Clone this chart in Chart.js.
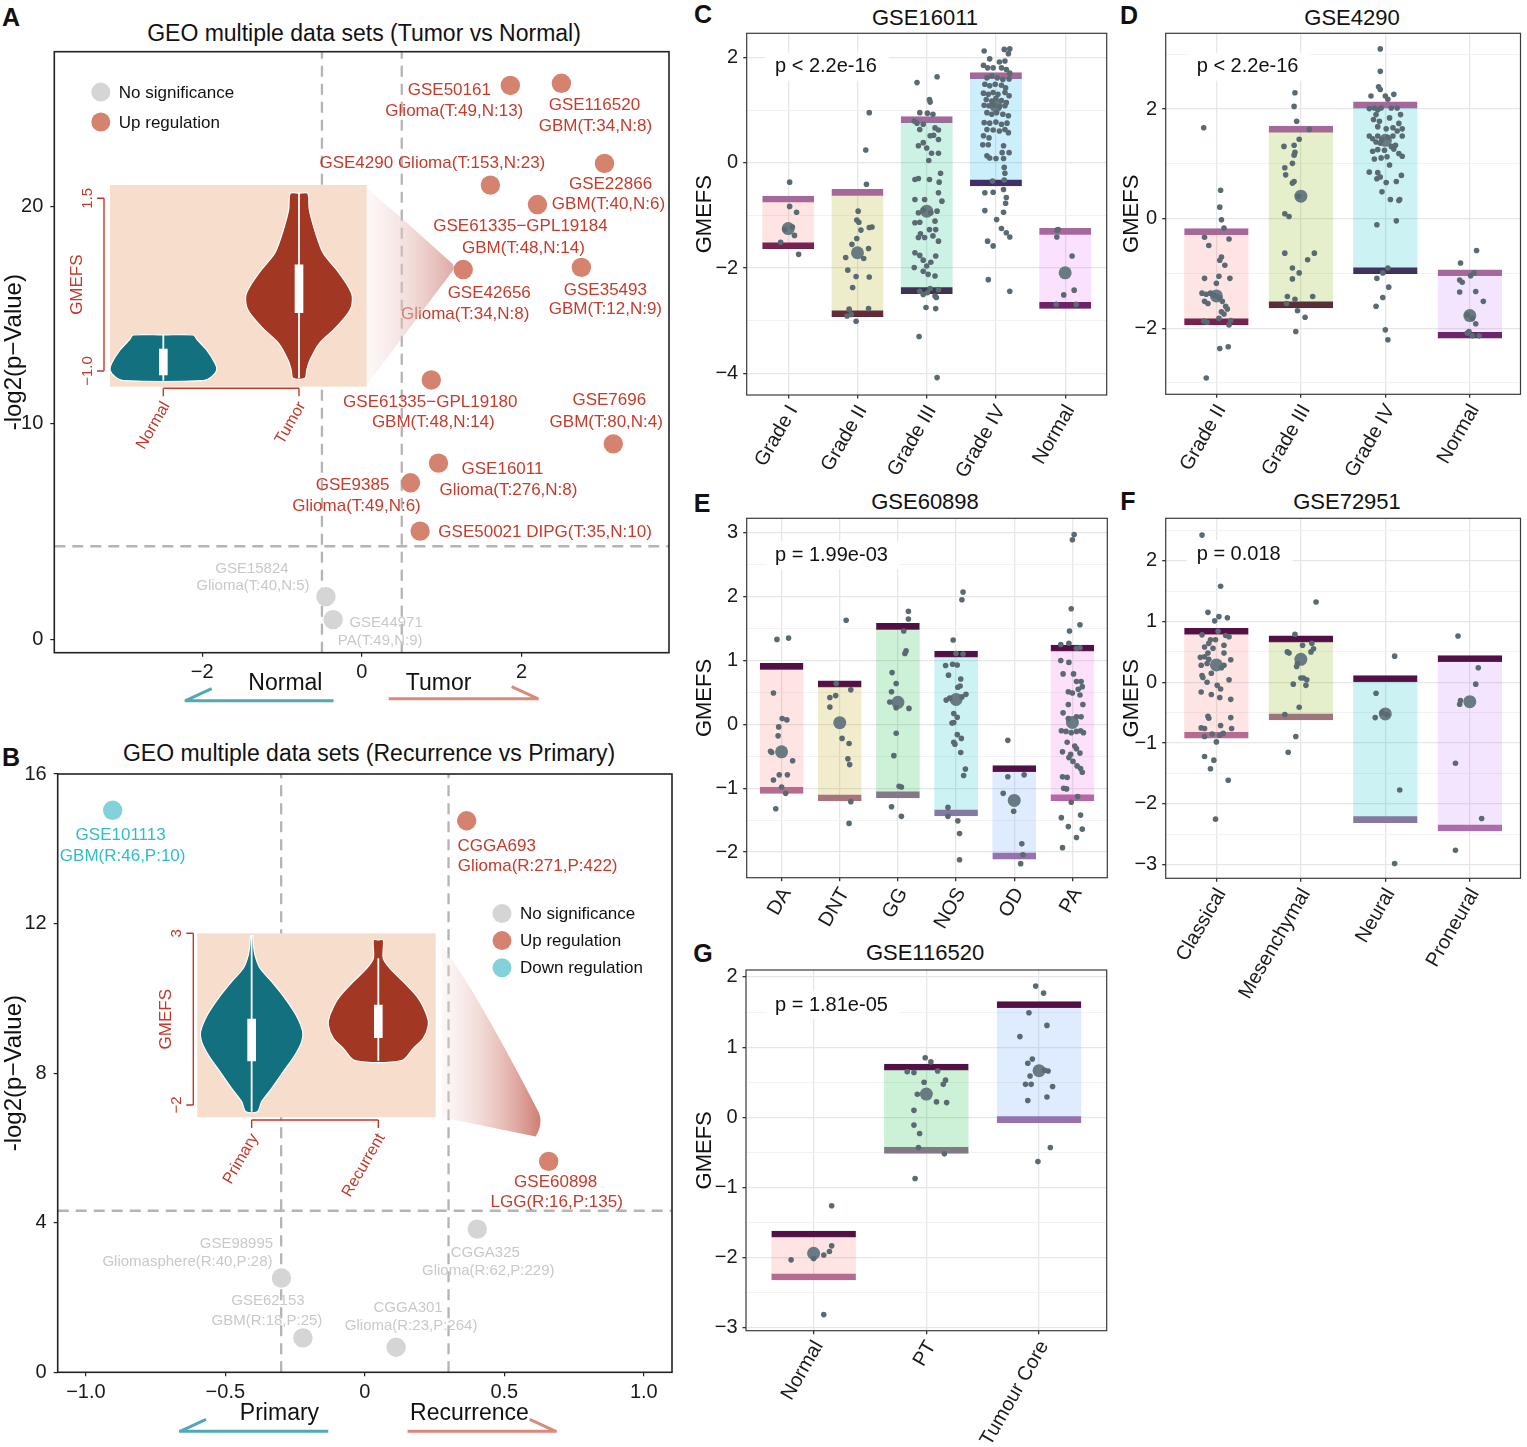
<!DOCTYPE html>
<html lang="en">
<head>
<meta charset="UTF-8" />
<title>GMEFS across GEO data sets</title>
<script src="https://cdn.jsdelivr.net/npm/chart.js@4.4.1/dist/chart.umd.min.js"></script>
<style>
  body { margin: 0; background: #fff; position: relative; width: 1527px; height: 1447px; overflow: hidden;
         font-family: 'Liberation Sans', Arial, Helvetica, sans-serif; color: #111; }
  canvas { position: absolute; }
  .tag { position: absolute; font-weight: bold; font-size: 25px; line-height: 1; transform: translate(-50%, -50%); }
  .ttl { position: absolute; font-size: 22px; line-height: 1; white-space: nowrap; transform: translate(-50%, -50%); }
</style>
</head>
<body>
<div class="tag" style="left:11px;top:17px">A</div>
<div class="ttl" style="left:364px;top:33px;font-size:23px">GEO multiple data sets (Tumor vs Normal)</div>
<div class="tag" style="left:11px;top:757px">B</div>
<div class="ttl" style="left:369px;top:753px;font-size:23px">GEO multiple data sets (Recurrence vs Primary)</div>
<div class="tag" style="left:703px;top:14px">C</div>
<div class="ttl" style="left:925px;top:18px">GSE16011</div>
<div class="tag" style="left:1129px;top:15px">D</div>
<div class="ttl" style="left:1352px;top:18px">GSE4290</div>
<div class="tag" style="left:702px;top:503px">E</div>
<div class="ttl" style="left:925px;top:502px">GSE60898</div>
<div class="tag" style="left:1128px;top:501px">F</div>
<div class="ttl" style="left:1347px;top:502px">GSE72951</div>
<div class="tag" style="left:703px;top:953px">G</div>
<div class="ttl" style="left:925px;top:953px">GSE116520</div>

<canvas id="chartA" width="690" height="728" style="left:0;top:0"></canvas>
<canvas id="insetA" width="320" height="290" style="left:60px;top:175px"></canvas>
<canvas id="chartB" width="690" height="717" style="left:0;top:730px"></canvas>
<canvas id="insetB" width="300" height="290" style="left:150px;top:920px"></canvas>
<canvas id="chartC" width="425" height="485" style="left:690px;top:0"></canvas>
<canvas id="chartD" width="412" height="485" style="left:1115px;top:0"></canvas>
<canvas id="chartE" width="425" height="455" style="left:690px;top:485px"></canvas>
<canvas id="chartF" width="412" height="520" style="left:1115px;top:485px"></canvas>
<canvas id="chartG" width="425" height="507" style="left:690px;top:940px"></canvas>

<script>
// ---------- A : Tumor vs Normal ----------
const aNames = ['GSE50161', 'GSE116520', 'GSE4290', 'GSE22866', 'GSE61335−GPL19184', 'GSE42656', 'GSE35493',
  'GSE61335−GPL19180', 'GSE7696', 'GSE16011', 'GSE9385', 'GSE50021', 'GSE15824', 'GSE44971'];
const aInfo = ['Glioma(T:49,N:13)', 'GBM(T:34,N:8)', 'Glioma(T:153,N:23)', 'GBM(T:40,N:6)', 'GBM(T:48,N:14)',
  'Glioma(T:34,N:8)', 'GBM(T:12,N:9)', 'GBM(T:48,N:14)', 'GBM(T:80,N:4)', 'Glioma(T:276,N:8)',
  'Glioma(T:49,N:6)', 'DIPG(T:35,N:10)', 'Glioma(T:40,N:5)', 'PA(T:49,N:9)'];
const aLogFC = [1.86, 2.50, 1.61, 3.04, 2.20, 1.27, 2.75, 0.87, 3.15, 0.96, 0.61, 0.73, -0.45, -0.36];
const aNegLogP = [25.6, 25.7, 21.0, 22.0, 20.1, 17.1, 17.2, 12.0, 9.05, 8.16, 7.25, 5.02, 1.99, 0.93];
const aGroup = ['up', 'up', 'up', 'up', 'up', 'up', 'up', 'up', 'up', 'up', 'up', 'up', 'ns', 'ns'];
const aXTicks = [-2, 0, 2];
const aYTicks = [0, 10, 20];

// inset violins of A (GMEFS level, half width)
const insetACats = ['Normal', 'Tumor'];
const insetANormal = [[-0.479, 0.221], [-0.55, 0.25], [-0.696, 0.319], [-0.889, 0.381], [-0.986, 0.393], [-1.082, 0.356], [-1.14, 0.29]];
const insetATumor = [[1.572, 0.064], [1.35, 0.075], [1.186, 0.094], [0.95, 0.13], [0.704, 0.179], [0.462, 0.278], [0.221, 0.363],
  [0.076, 0.393], [-0.117, 0.376], [-0.358, 0.278], [-0.599, 0.150], [-0.841, 0.081], [-0.986, 0.057], [-1.106, 0.044]];
const insetABox = [[-1.058, -0.681], [-0.155, 0.535]];
const insetAWhisker = [[-0.479, -1.14], [1.572, -1.106]];
const insetAYTicks = [-1.0, 1.5];
const insetAYLabels = ['−1.0', '1.5'];

// ---------- B : Recurrence vs Primary ----------
const bNames = ['GSE101113', 'CGGA693', 'GSE60898', 'CGGA325', 'GSE98995', 'GSE62153', 'CGGA301'];
const bInfo = ['GBM(R:46,P:10)', 'Glioma(R:271,P:422)', 'LGG(R:16,P:135)', 'Glioma(R:62,P:229)',
  'Gliomasphere(R:40,P:28)', 'GBM(R:18,P:25)', 'Glioma(R:23,P:264)'];
const bLogFC = [-0.904, 0.365, 0.659, 0.403, -0.299, -0.222, 0.112];
const bNegLogP = [15.03, 14.75, 5.64, 3.83, 2.52, 0.92, 0.67];
const bGroup = ['down', 'up', 'up', 'ns', 'ns', 'ns', 'ns'];
const bXTicks = [-1, -0.5, 0, 0.5, 1];
const bXLabels = ['−1.0', '−0.5', '0', '0.5', '1.0'];
const bYTicks = [0, 4, 8, 12, 16];

const insetBCats = ['Primary', 'Recurrent'];
const insetBPrimary = [[2.932, 0.008], [2.65, 0.015], [2.369, 0.026], [1.981, 0.066], [1.592, 0.158], [1.107, 0.263], [0.621, 0.35],
  [0.136, 0.403], [-0.155, 0.395], [-0.544, 0.342], [-1.029, 0.25], [-1.515, 0.158], [-1.903, 0.079], [-2.194, 0.045]];
const insetBRecurrent = [[2.806, 0.039], [2.272, 0.039], [1.981, 0.092], [1.592, 0.197], [1.107, 0.316], [0.621, 0.382],
  [0.33, 0.395], [-0.058, 0.355], [-0.35, 0.276], [-0.709, 0.184]];
const insetBBox = [[-0.718, 0.505], [-0.039, 0.913]];
const insetBWhisker = [[2.932, -2.194], [2.272, -0.709]];
const insetBYTicks = [-2, 3];
const insetBYLabels = ['−2', '3'];

// ---------- C : GSE16011 ----------
const cCats = ['Grade I', 'Grade II', 'Grade III', 'Grade IV', 'Normal'];
const cLow = [-1.633, -2.924, -2.487, -0.443, -2.766];
const cHigh = [-0.633, -0.506, 0.873, 1.709, -1.247];
const cMean = [-1.25, -1.71, -0.92, 1.08, -2.09];
const cPts = [
  [[0.02,-0.37],[0.02,-0.83],[0.12,-0.94],[-0.05,-1.27],[0.06,-1.22],[0.09,-1.38],[-0.11,-1.51],[0.15,-1.74]],
  [[0.17,0.95],[0.12,0.24],[0.13,-0.41],[0.01,-0.92],[-0.01,-1.09],[0.02,-1.13],[0.17,-1.23],[0.21,-1.22],[0.05,-1.28],
   [-0.01,-1.44],[-0.08,-1.55],[0.16,-1.63],[-0.17,-1.80],[0.09,-1.82],[-0.14,-2.04],[-0.02,-2.16],[0.17,-2.17],
   [-0.07,-2.37],[-0.12,-2.78],[0.16,-2.77],[-0.09,-2.88],[-0.15,-2.91],[-0.02,-3.01]],
  [[-0.14,1.52],[0.15,1.63],[0.04,1.2],[0.05,1.15],[-0.10,0.95],[0.01,0.94],[0.09,0.92],[-0.18,0.79],[-0.14,0.75],
   [-0.05,0.73],[0.12,0.66],[0.17,0.62],[-0.10,0.63],[0.05,0.51],[0.17,0.44],[0.10,0.52],[-0.05,0.38],[-0.12,0.32],
   [0,0.28],[0.07,0.18],[0.17,0.18],[0.03,0.04],[0.20,-0.2],[-0.17,-0.32],[-0.12,-0.30],[0.04,-0.32],[0.18,-0.37],
   [0.17,-0.57],[-0.17,-0.70],[-0.03,-0.70],[0.22,-0.73],[-0.12,-0.95],[-0.05,-0.9],[0.06,-0.95],[0.15,-0.92],
   [-0.17,-1.14],[-0.10,-1.13],[0.12,-1.11],[0.04,-1.27],[0.13,-1.27],[-0.09,-1.35],[-0.03,-1.42],[0.17,-1.49],
   [-0.12,-1.42],[0.09,-1.39],[-0.17,-1.71],[-0.10,-1.76],[0.13,-1.77],[-0.05,-1.85],[0.06,-1.89],[-0.18,-1.99],
   [0,-1.96],[-0.05,-2.06],[0.12,-2.15],[0.02,-2.12],[-0.10,-2.44],[0.05,-2.39],[0.17,-2.41],[-0.05,-2.5],[0.01,-2.47],
   [0.12,-2.53],[0.14,-2.56],[-0.01,-2.75],[0.13,-2.77],[-0.11,-3.3],[0.15,-4.08]],
  [[-0.17,2.12],[0.12,2.15],[0.20,2.16],[0.18,2.07],[-0.09,1.97],[0.05,1.91],[0.13,1.93],[-0.18,1.85],[-0.12,1.80],
   [-0.04,1.80],[0.08,1.80],[0.15,1.77],[0.20,1.70],[-0.13,1.61],[-0.06,1.65],[0.02,1.61],[0.10,1.58],[0.19,1.59],
   [-0.16,1.49],[-0.09,1.46],[-0.01,1.49],[0.08,1.47],[0.14,1.42],[-0.18,1.32],[-0.11,1.30],[-0.04,1.33],[0.03,1.30],
   [0.13,1.33],[0.19,1.27],[-0.14,1.20],[-0.06,1.17],[0,1.22],[0.08,1.18],[0.15,1.14],[-0.17,1.09],[-0.10,1.08],
   [-0.03,1.09],[0.05,1.06],[0.13,1.08],[-0.13,0.95],[-0.06,0.92],[0.01,0.95],[0.10,0.92],[0.18,0.89],[-0.17,0.76],
   [-0.09,0.75],[0,0.77],[0.08,0.73],[0.16,0.75],[-0.13,0.63],[-0.04,0.62],[0.05,0.60],[0.13,0.63],[-0.18,0.51],
   [-0.10,0.47],[0.18,0.57],[-0.19,0.34],[-0.11,0.34],[0.11,0.32],[-0.13,0.13],[-0.09,0.09],[0,0.08],[0.09,0.19],
   [0.19,0.19],[0.11,0.08],[0.12,-0.09],[0.13,-0.20],[-0.05,-0.35],[0.12,-0.33],[-0.16,-0.57],[-0.04,-0.56],
   [0.11,-0.51],[0.15,-0.66],[0.14,-0.77],[-0.16,-0.91],[0.11,-0.94],[0.01,-1.08],[0.08,-1.25],[0.15,-1.33],
   [0.20,-1.41],[-0.12,-1.49],[-0.04,-1.58],[-0.11,-2.22],[0.20,-2.44]],
  [[-0.12,-1.28],[-0.10,-1.27],[-0.12,-1.41],[0.10,-1.77],[0.13,-2.42],[-0.02,-2.51],[-0.13,-2.69],[0.16,-2.69]]
];

// ---------- D : GSE4290 ----------
const dCats = ['Grade II', 'Grade III', 'Grade IV', 'Normal'];
const dLow = [-1.939, -1.628, -1.006, -2.183];
const dHigh = [-0.183, 1.689, 2.134, -0.933];
const dMean = [-1.41, 0.41, 1.43, -1.77];
const dPts = [
  [[-0.15,1.66],[0.05,0.52],[0.04,0.21],[0.06,-0.02],[0.09,-0.17],[-0.14,-0.34],[0.15,-0.37],[-0.09,-0.49],[0.06,-0.70],
   [0.04,-0.76],[0.10,-0.85],[-0.14,-1.09],[0.03,-1.05],[0.16,-1.09],[0,-1.18],[-0.17,-1.36],[-0.12,-1.38],[-0.07,-1.36],
   [-0.03,-1.40],[0.01,-1.42],[0.04,-1.45],[0.07,-1.51],[-0.14,-1.51],[-0.10,-1.55],[0.11,-1.60],[0.13,-1.65],
   [0.06,-1.70],[0.09,-1.74],[0.03,-1.82],[0.17,-1.86],[-0.15,-1.87],[-0.11,-1.89],[0.15,-1.94],[0.04,-2.37],
   [0.14,-2.34],[-0.12,-2.91]],
  [[-0.07,2.30],[-0.08,2.05],[-0.05,1.78],[0.10,1.63],[-0.02,1.45],[-0.08,1.34],[-0.20,1.32],[-0.07,1.21],[-0.08,1.16],
   [-0.10,1.01],[-0.19,0.93],[-0.18,0.80],[-0.08,0.68],[-0.10,0.65],[-0.03,0.41],[-0.19,0.09],[-0.14,0.04],
   [-0.19,-0.63],[0.08,-0.75],[0.16,-0.63],[-0.10,-0.90],[-0.02,-0.99],[-0.10,-1.10],[-0.16,-1.42],[0.14,-1.42],
   [-0.07,-1.47],[-0.17,-1.55],[-0.04,-1.68],[0.05,-1.80],[-0.06,-2.06]],
  [[-0.06,3.10],[-0.06,2.69],[-0.08,2.41],[-0.06,2.36],[-0.17,2.24],[0.10,2.27],[0,2.24],[0.03,2.18],[-0.19,2.01],
   [-0.13,2.02],[-0.09,1.99],[-0.05,2.02],[0.07,2.02],[0.14,2.02],[-0.11,1.90],[0.18,1.90],[-0.14,1.81],[-0.07,1.78],
   [0.05,1.84],[0.16,1.74],[-0.09,1.68],[0.01,1.64],[0.09,1.66],[0.20,1.64],[-0.19,1.51],[-0.15,1.46],[-0.09,1.51],
   [-0.04,1.45],[0.03,1.48],[0.09,1.51],[0.14,1.60],[0.20,1.51],[-0.11,1.40],[-0.06,1.38],[0.07,1.32],[0.12,1.34],
   [-0.15,1.23],[-0.09,1.26],[-0.01,1.25],[0.10,1.27],[0.16,1.19],[-0.13,1.09],[-0.05,1.11],[0.02,1.13],[0.20,1.14],
   [0.05,0.98],[-0.09,0.84],[-0.19,0.85],[0.19,0.79],[-0.10,0.73],[-0.06,0.76],[0.01,0.66],[0.13,0.68],[-0.04,0.49],
   [0.06,0.35],[0.16,0.33],[0.17,0.35],[0.13,-0.04],[-0.10,-0.11],[0.03,-0.90],[-0.10,-1.09],[-0.03,-0.99],
   [0.04,-1.25],[-0.03,-1.44],[-0.11,-1.60],[0,-2.03],[0.03,-2.21]],
  [[0.08,-0.58],[-0.11,-0.81],[-0.12,-1.12],[-0.09,-1.16],[0.01,-1.04],[0.05,-0.99],[-0.12,-1.34],[0.07,-1.33],
   [0.16,-1.51],[-0.03,-1.76],[0.03,-1.82],[0.07,-1.92],[-0.03,-2.09],[0.03,-2.14],[0.11,-2.14],[-0.01,-2.06]]
];

// ---------- E : GSE60898 ----------
const eCats = ['DA', 'DNT', 'GG', 'NOS', 'OD', 'PA'];
const eLow = [-1.08, -1.20, -1.15, -1.435, -2.11, -1.195];
const eHigh = [0.955, 0.68, 1.58, 1.148, -0.647, 1.242];
const eMean = [-0.43, 0.026, 0.345, 0.39, -1.19, 0.03];
const ePts = [
  [[-0.08,1.33],[0.12,1.35],[-0.14,0.49],[0.01,0.09],[0.09,0.07],[-0.05,-0.04],[-0.06,-0.18],[-0.19,-0.42],[-0.17,-0.44],
   [0.19,-0.57],[-0.04,-0.79],[0.10,-0.79],[-0.14,-0.87],[0,-0.98],[0.07,-1.08],[-0.10,-1.32]],
  [[0.11,1.63],[-0.06,0.64],[-0.17,0.42],[-0.07,0.45],[0.19,0.54],[-0.17,0.27],[0.04,-0.22],[0.16,-0.30],[0.14,-0.54],
   [0.17,-0.63],[0.19,-1.21],[0.16,-1.55]],
  [[0.18,1.77],[0.18,1.65],[0.10,1.46],[0.14,1.15],[0.12,1.11],[-0.10,0.81],[-0.03,0.64],[-0.11,0.51],[-0.14,0.35],
   [-0.03,0.26],[0.19,0.25],[-0.03,-0.14],[-0.07,-0.49],[0.02,-0.97],[0.06,-0.98],[-0.11,-1.29],[0.06,-1.44]],
  [[0.12,2.07],[0.10,1.95],[-0.05,1.32],[0,1.11],[0.12,1.10],[-0.18,0.92],[-0.06,0.94],[0.02,0.93],[-0.13,0.77],
   [0.08,0.71],[0.03,0.58],[0.07,0.60],[0.17,0.47],[-0.17,0.38],[-0.11,0.41],[0.10,0.43],[-0.04,0.17],[0.02,0.11],
   [-0.07,0.02],[-0.04,0.03],[0.02,-0.16],[0.09,-0.22],[-0.04,-0.28],[-0.02,-0.31],[0.08,-0.44],[0.16,-0.70],
   [0.13,-0.80],[-0.14,-1.30],[-0.14,-1.44],[0.03,-1.51],[0.06,-1.71],[0.06,-2.12]],
  [[-0.11,-0.25],[-0.11,-0.82],[0.17,-0.79],[-0.19,-1.08],[-0.01,-1.36],[0.13,-1.87],[0.15,-2.04],[0.11,-2.18]],
  [[0.03,2.97],[0,2.89],[-0.02,1.81],[0.13,1.56],[-0.05,1.46],[-0.20,1.25],[-0.06,1.27],[0.07,1.19],[0.13,1.20],
   [-0.20,1.00],[-0.06,0.97],[-0.16,0.79],[0.02,0.79],[0.15,0.67],[0.07,0.67],[-0.07,0.51],[0.10,0.55],[0.17,0.59],
   [0,0.49],[0.13,0.46],[0.18,0.31],[-0.07,0.31],[-0.16,0.18],[0.07,0.12],[0.15,0.12],[-0.07,0.09],[-0.19,-0.10],
   [-0.11,-0.11],[-0.02,-0.13],[0.07,-0.11],[0.14,-0.10],[0.19,-0.13],[-0.09,-0.28],[0.04,-0.34],[0.07,-0.38],
   [-0.17,-0.43],[-0.03,-0.47],[0.13,-0.45],[-0.06,-0.52],[0.01,-0.58],[0.08,-0.65],[0.14,-0.69],[0.17,-0.75],
   [-0.17,-0.82],[-0.09,-0.83],[-0.15,-1.00],[-0.10,-1.01],[0.09,-1.13],[-0.02,-1.22],[0.14,-1.42],[-0.19,-1.46],
   [-0.07,-1.60],[0.17,-1.64],[0.07,-1.77],[-0.17,-1.93]]
];

// ---------- F : GSE72951 ----------
const fCats = ['Classical', 'Mesenchymal', 'Neural', 'Proneural'];
const fLow = [-0.92, -0.62, -2.307, -2.444];
const fHigh = [0.888, 0.762, 0.11, 0.438];
const fMean = [0.285, 0.378, -0.52, -0.318];
const fPts = [
  [[-0.17,2.42],[0.05,1.58],[-0.10,1.15],[0.03,1.08],[0.13,1.06],[-0.02,1.01],[0.02,0.84],[-0.17,0.78],[0.11,0.77],
   [0.15,0.75],[-0.07,0.70],[-0.01,0.70],[-0.09,0.64],[-0.14,0.58],[-0.04,0.56],[0.09,0.61],[-0.10,0.48],[0.09,0.48],
   [-0.19,0.41],[-0.14,0.42],[-0.09,0.38],[0.17,0.37],[-0.18,0.28],[-0.11,0.31],[0.06,0.24],[0.09,0.28],[-0.06,0.15],
   [-0.17,0.11],[-0.16,0.08],[0.15,0.04],[-0.11,0.0],[0.01,-0.05],[0.05,-0.11],[-0.18,-0.16],[-0.06,-0.20],
   [0.04,-0.25],[0.17,-0.28],[-0.10,-0.56],[-0.09,-0.59],[0.17,-0.58],[0.05,-0.71],[-0.18,-0.75],[-0.14,-0.76],
   [0.18,-0.76],[-0.05,-0.85],[0.04,-0.87],[0.08,-0.84],[-0.14,-0.89],[0,-0.98],[-0.14,-1.22],[-0.03,-1.28],
   [-0.07,-1.42],[0.14,-1.61],[-0.01,-2.25]],
  [[0.18,1.32],[-0.07,0.79],[-0.16,0.50],[-0.14,0.48],[0.13,0.64],[0.02,0.61],[0.15,0.55],[0.12,0.50],[-0.05,0.26],
   [-0.04,0.31],[0,0.07],[0.03,0.07],[0.07,0.04],[-0.09,-0.03],[0.06,-0.05],[-0.02,-0.41],[-0.19,-0.53],[-0.06,-0.89],
   [-0.15,-1.15]],
  [[0.11,0.43],[-0.11,-0.18],[-0.04,-0.50],[0.02,-0.53],[-0.12,-0.58],[0.17,-1.77],[0.11,-2.98]],
  [[-0.14,0.76],[0.10,0.24],[0.07,-0.03],[-0.11,-0.30],[-0.12,-0.36],[-0.17,-1.33],[0.14,-2.24],[-0.17,-2.76]]
];

// ---------- G : GSE116520 ----------
const gCats = ['Normal', 'PT', 'Tumour Core'];
const gLow = [-2.317, -0.513, -0.076];
const gHigh = [-1.619, 0.76, 1.648];
const gMean = [-1.937, 0.332, 0.665];
const gPts = [
  [[0.16,-1.26],[0.16,-1.83],[0.14,-1.91],[0.09,-1.96],[0,-2.01],[-0.20,-2.03],[0.09,-2.81]],
  [[-0.01,0.85],[0.04,0.79],[-0.17,0.65],[-0.11,0.64],[0.10,0.66],[-0.02,0.50],[0.17,0.53],[0.15,0.47],[-0.08,0.33],
   [0.09,0.22],[0.18,0.21],[-0.11,0.10],[-0.11,-0.11],[-0.06,-0.23],[-0.07,-0.43],[0.16,-0.52],[-0.10,-0.87]],
  [[-0.03,1.87],[0.04,1.77],[-0.09,1.49],[0.07,1.31],[-0.17,1.15],[-0.06,0.83],[-0.10,0.77],[-0.08,0.59],[0.08,0.66],
   [0.05,0.67],[-0.12,0.47],[-0.07,0.47],[0.12,0.44],[0.07,0.29],[-0.10,0.24],[0.10,-0.43],[-0.01,-0.63]]
];

// ---------- styling ----------
const FONT = "'Liberation Sans', Arial, Helvetica, sans-serif";
const DOT_FILL = {up: '#d5826f', ns: '#d5d5d5', down: '#84d2d9'};
const DOT_TEXT = {up: '#c33d2d', ns: '#c9c9c9', down: '#2fbdc8'};
const TEAL = '#13707f', BRICK = '#a23823', PEACH = '#f6ddcc', INSET_RED = '#c0392b';
const JITTER = '#5a6a72', MEAN_DOT = '#687a82';
const BAR_LIGHT = '#a5689a', BAR_DARK = '#531046';
const HUE = {
  3: ['#F8766D', '#00BA38', '#619CFF'],
  4: ['#F8766D', '#7CAE00', '#00BFC4', '#C77CFF'],
  5: ['#F8766D', '#A3A500', '#00BF7D', '#00B0F6', '#E76BF3'],
  6: ['#F8766D', '#B79F00', '#00BA38', '#00BFC4', '#619CFF', '#F564E3']
};
const INSET_A_BOX = {l: 110, t: 185, r: 366.7, b: 386.7};
const INSET_B_BOX = {l: 197.3, t: 933.3, r: 435.7, b: 1117.3};

Chart.defaults.font.family = FONT;
Chart.defaults.color = '#1a1a1a';
Chart.defaults.animation = false;
Chart.defaults.responsive = false;
Chart.defaults.plugins.legend.display = false;
Chart.defaults.plugins.tooltip.enabled = false;

const minus = v => (v < 0 ? '−' : '') + Math.abs(v);
const withAlpha = (hex, a) => {
  const n = parseInt(hex.slice(1), 16);
  return `rgba(${n >> 16},${(n >> 8) & 255},${n & 255},${a})`;
};
const fixY = w => s => { s.width = w; s.paddingTop = 0; s.paddingBottom = 0; };
const fixX = h => s => { s.height = h; s.paddingLeft = 0; s.paddingRight = 0; };

function drawText(ctx, s, x, y, font, color, align, rot) {
  ctx.save();
  ctx.font = font; ctx.fillStyle = color;
  ctx.textAlign = align || 'center'; ctx.textBaseline = 'middle';
  ctx.translate(x, y);
  if (rot) ctx.rotate(rot);
  ctx.fillText(s, 0, 0);
  ctx.restore();
}

// frame round the plot area
const frame = {
  id: 'frame',
  afterDatasetsDraw(chart, args, o) {
    const {ctx, chartArea: a} = chart;
    ctx.save();
    ctx.strokeStyle = o.color || '#333'; ctx.lineWidth = o.width || 1.2;
    ctx.strokeRect(a.left, a.top, a.right - a.left, a.bottom - a.top);
    ctx.restore();
  }
};

// p value text with white label box
const pText = {
  id: 'pText',
  beforeDatasetsDraw(chart, args, o) {
    const {ctx, chartArea: a} = chart;
    ctx.save();
    ctx.font = '20px ' + FONT;
    const w = ctx.measureText(o.text).width;
    const x = a.left + o.dx, y = a.top + o.dy;
    ctx.fillStyle = '#fff';
    ctx.fillRect(x - 10, y - 14, w + 22, 28);
    drawText(ctx, o.text, x, y, '20px ' + FONT, '#111', 'left');
    ctx.restore();
  }
};

// category names under a box panel, rotated and ending at the tick
const catLabels = {
  id: 'catLabels',
  afterDraw(chart, args, o) {
    const {ctx, chartArea: a, scales: {x}} = chart;
    o.cats.forEach((c, i) => drawText(ctx, c, x.getPixelForValue(i + 1) + 5, a.bottom + 12, '20px ' + FONT, '#1a1a1a', 'right', -Math.PI / 3));
  }
};

// point labels for volcano panels
const pointLabels = {
  id: 'pointLabels',
  afterDatasetsDraw(chart, args, o) {
    const ctx = chart.ctx;
    chart.getDatasetMeta(0).data.forEach((el, i) => {
      const g = o.group[i], off = o.pos[i];
      const font = (g === 'ns' ? '15px ' : '17px ') + FONT;
      if (off.length === 2) {
        drawText(ctx, o.names[i] + ' ' + o.info[i], el.x + off[0], el.y + off[1], font, DOT_TEXT[g]);
      } else {
        drawText(ctx, o.names[i], el.x + off[0], el.y + off[1], font, DOT_TEXT[g]);
        drawText(ctx, o.info[i], el.x + off[2], el.y + off[3], font, DOT_TEXT[g]);
      }
    });
  }
};

// legend drawn inside the panel
const innerLegend = {
  id: 'innerLegend',
  afterDatasetsDraw(chart, args, o) {
    const {ctx, chartArea: a} = chart;
    o.items.forEach((it, i) => {
      const y = a.top + o.y + i * o.step;
      ctx.save();
      ctx.fillStyle = DOT_FILL[it[0]];
      ctx.beginPath(); ctx.arc(a.left + o.x, y, 9.5, 0, Math.PI * 2); ctx.fill();
      ctx.restore();
      drawText(ctx, it[1], a.left + o.x + 18, y + 1, '17px ' + FONT, '#111', 'left');
    });
  }
};

// group names and harpoon arrows under the x axis
const sideArrows = {
  id: 'sideArrows',
  afterDraw(chart, args, o) {
    const {ctx, chartArea: a, scales: {x}} = chart;
    o.text.forEach((t, i) => drawText(ctx, t, x.getPixelForValue(o.textX[i]), a.bottom + o.textDy, '23px ' + FONT, '#111'));
    o.lines.forEach(l => {
      const x0 = x.getPixelForValue(l.from), x1 = x.getPixelForValue(l.to), y = a.bottom + l.dy;
      ctx.save();
      ctx.strokeStyle = l.color; ctx.lineWidth = 3; ctx.lineCap = 'butt';
      ctx.beginPath();
      ctx.moveTo(x0, y); ctx.lineTo(x1, y);
      if (l.head === 'left') { ctx.moveTo(x0 + 1, y); ctx.lineTo(x0 + 27, y - 12); }
      else { ctx.moveTo(x1 - 1, y); ctx.lineTo(x1 - 27, y - 12); }
      ctx.stroke();
      ctx.restore();
    });
  }
};

// shaded "zoom" funnel from the inset to a data point
const funnel = {
  id: 'funnel',
  afterDatasetsDraw(chart, args, o) {
    const ctx = chart.ctx;
    const el = chart.getDatasetMeta(0).data[o.point];
    const tip = {x: el.x + o.tip[0], y: el.y + o.tip[1]};
    ctx.save();
    const g = ctx.createLinearGradient(o.left, 0, tip.x, 0);
    g.addColorStop(0, 'rgba(246,226,222,0.25)');
    g.addColorStop(1, o.end);
    ctx.fillStyle = g;
    ctx.beginPath();
    ctx.moveTo(o.left, o.top);
    ctx.quadraticCurveTo(o.c1[0], o.c1[1], tip.x + o.t1[0], tip.y + o.t1[1]);
    ctx.quadraticCurveTo(tip.x + o.t2[0], tip.y + o.t2[1], tip.x + o.t3[0], tip.y + o.t3[1]);
    ctx.lineTo(o.left, o.bottom);
    ctx.closePath();
    ctx.fill();
    ctx.restore();
  }
};

function volcano(id, cfg) {
  const cv = document.getElementById(id);
  const W = cv.width, H = cv.height, ar = cfg.area;
  const pts = cfg.fc.map((x, i) => ({x, y: cfg.p[i]}));
  const dashed = d => ({data: d, showLine: true, borderColor: '#b4b4b4', borderWidth: 2.3, borderDash: [11, 7], pointRadius: 0});
  return new Chart(cv, {
    type: 'scatter',
    data: {datasets: [
      {data: pts, pointRadius: 9.7, pointBackgroundColor: cfg.group.map(g => DOT_FILL[g]), pointBorderWidth: 0},
      dashed([{x: -cfg.fcCut, y: cfg.yr[0]}, {x: -cfg.fcCut, y: cfg.yr[1]}]),
      dashed([{x: cfg.fcCut, y: cfg.yr[0]}, {x: cfg.fcCut, y: cfg.yr[1]}]),
      dashed([{x: cfg.xr[0], y: cfg.pCut}, {x: cfg.xr[1], y: cfg.pCut}])
    ]},
    options: {
      layout: {padding: {left: 0, top: ar[1], right: W - ar[2], bottom: 0}},
      scales: {
        x: {min: cfg.xr[0], max: cfg.xr[1],
            afterBuildTicks: s => { s.ticks = cfg.xTicks.map(v => ({value: v})); },
            ticks: {callback: (v, i) => cfg.xLabels[i], font: {size: 20}, color: '#1a1a1a', padding: 4, autoSkip: false, maxRotation: 0},
            grid: {drawOnChartArea: false, tickLength: 4, tickColor: '#222', lineWidth: 1.2},
            border: {display: false}, afterFit: fixX(H - ar[3])},
        y: {min: cfg.yr[0], max: cfg.yr[1],
            afterBuildTicks: s => { s.ticks = cfg.yTicks.map(v => ({value: v})); },
            ticks: {callback: v => minus(v), font: {size: 20}, color: '#1a1a1a', padding: 7, autoSkip: false},
            grid: {drawOnChartArea: false, tickLength: 4, tickColor: '#222', lineWidth: 1.2},
            border: {display: false},
            title: {display: true, text: '-log2(p−Value)', font: {size: 24}, color: '#111', padding: {top: 0, bottom: 0}},
            afterFit: fixY(ar[0])}
      },
      plugins: {
        frame: {color: '#222', width: 1.6},
        pointLabels: {names: cfg.names, info: cfg.info, group: cfg.group, pos: cfg.labelPos},
        innerLegend: cfg.legend,
        sideArrows: cfg.arrows,
        funnel: cfg.funnel
      }
    },
    plugins: [frame, pointLabels, innerLegend, sideArrows, funnel]
  });
}

// ---------- inset violin charts ----------
const peach = {
  id: 'peach',
  beforeDatasetsDraw(chart) {
    const {ctx, chartArea: a} = chart;
    ctx.save(); ctx.fillStyle = PEACH;
    ctx.fillRect(a.left, a.top, a.right - a.left, a.bottom - a.top);
    ctx.restore();
  }
};
const insetAxes = {
  id: 'insetAxes',
  afterDraw(chart, args, o) {
    const {ctx, chartArea: a, scales: {x, y}} = chart;
    const ax = a.left - o.gap;
    const ys = o.yTicks.map(v => y.getPixelForValue(v));
    ctx.save();
    ctx.strokeStyle = INSET_RED; ctx.lineWidth = 1.4;
    ctx.beginPath();
    ctx.moveTo(ax, ys[0]); ctx.lineTo(ax, ys[ys.length - 1]);
    ys.forEach(py => { ctx.moveTo(ax - 7, py); ctx.lineTo(ax, py); });
    const by = a.bottom + o.gapB;
    const xs = o.cats.map((c, i) => x.getPixelForValue(i + 1));
    ctx.moveTo(xs[0], by); ctx.lineTo(xs[xs.length - 1], by);
    xs.forEach(px => { ctx.moveTo(px, by); ctx.lineTo(px, by + 8); });
    ctx.stroke();
    ctx.restore();
    ys.forEach((py, i) => drawText(ctx, o.yLabels[i], ax - 16, py, '15px ' + FONT, INSET_RED, 'center', -Math.PI / 2));
    drawText(ctx, 'GMEFS', ax - 27, (ys[0] + ys[ys.length - 1]) / 2, '17px ' + FONT, INSET_RED, 'center', -Math.PI / 2);
    xs.forEach((px, i) => drawText(ctx, o.cats[i], px + 3, by + 15, '16px ' + FONT, INSET_RED, 'right', -Math.PI / 3));
  }
};

function outline(c, levels) {
  const right = levels.map(([y, w]) => ({x: c + w, y}));
  const left = levels.slice().reverse().map(([y, w]) => ({x: c - w, y}));
  return [{x: c, y: levels[0][0]}, ...right, ...left, {x: c, y: levels[0][0]}];
}

function insetChart(id, box, cfg) {
  const cv = document.getElementById(id);
  const L = parseFloat(cv.style.left), T = parseFloat(cv.style.top);
  const violin = (c, lv, col) => ({type: 'line', data: outline(c, lv), fill: 'shape', backgroundColor: col,
    borderColor: '#ffffff', borderWidth: 1.2, pointRadius: 0, tension: 0.3});
  const whisker = (c, w) => ({type: 'line', data: [{x: c, y: w[0]}, {x: c, y: w[1]}], borderColor: '#ffffff',
    borderWidth: 1.8, pointRadius: 0, fill: false});
  return new Chart(cv, {
    type: 'scatter',
    data: {datasets: [
      {type: 'bar', data: cfg.box.map((b, i) => ({x: i + 1, y: b})), backgroundColor: '#ffffff', barThickness: 8, grouped: false},
      whisker(1, cfg.whisker[0]),
      whisker(2, cfg.whisker[1]),
      violin(1, cfg.v1, TEAL),
      violin(2, cfg.v2, BRICK)
    ]},
    options: {
      layout: {padding: {left: box.l - L, top: box.t - T, right: cv.width - (box.r - L), bottom: cv.height - (box.b - T)}},
      scales: {
        x: {type: 'linear', display: false, offset: false, grid: {offset: false}, min: cfg.xr[0], max: cfg.xr[1]},
        y: {type: 'linear', display: false, min: cfg.yr[0], max: cfg.yr[1]}
      },
      plugins: {insetAxes: {gap: cfg.gap, gapB: cfg.gapB, yTicks: cfg.yTicks, yLabels: cfg.yLabels, cats: cfg.cats}}
    },
    plugins: [peach, insetAxes]
  });
}

// ---------- box / jitter panels ----------
function boxPanel(id, p) {
  const cv = document.getElementById(id);
  const W = cv.width, H = cv.height, n = p.cats.length, ar = p.area;
  const pts = [];
  p.pts.forEach((arr, i) => arr.forEach(([dx, y]) => pts.push({x: i + 1 + dx, y})));
  const spans = p.low.map((lo, i) => ({x: i + 1, y: [lo, p.high[i]]}));
  const ticksY = [...p.major, ...p.minor];
  const barW = 0.75 * (ar[2] - ar[0]) / (n + 0.2);
  const bar = (bg, col, side) => ({type: 'bar', data: spans, backgroundColor: bg, borderColor: col,
    borderWidth: {top: side === 'top' ? 6 : 0, right: 0, bottom: side === 'bottom' ? 6 : 0, left: 0},
    borderSkipped: false, grouped: false, barThickness: barW});
  return new Chart(cv, {
    type: 'scatter',
    data: {datasets: [
      {data: pts, pointRadius: 2.8, pointBackgroundColor: JITTER, pointBorderWidth: 0},
      {data: p.mean.map((m, i) => ({x: i + 1, y: m})), pointRadius: 6.5, pointBackgroundColor: MEAN_DOT, pointBorderWidth: 0},
      bar(HUE[n].map(c => withAlpha(c, 0.2)), p.topBar, 'top'),
      bar('rgba(0,0,0,0)', p.bottomBar, 'bottom')
    ]},
    options: {
      layout: {padding: {left: 0, top: ar[1], right: W - ar[2], bottom: 0}},
      scales: {
        x: {type: 'linear', min: 0.4, max: n + 0.6, offset: false,
            afterBuildTicks: s => { s.ticks = p.cats.map((c, i) => ({value: i + 1})); },
            ticks: {display: false},
            grid: {offset: false, color: '#e7e7e7', lineWidth: 1.3, tickLength: 3.5, tickColor: '#333'},
            border: {display: false}, afterFit: fixX(H - ar[3])},
        y: {min: p.yr[0], max: p.yr[1],
            afterBuildTicks: s => { s.ticks = ticksY.map(v => ({value: v})); },
            ticks: {callback: v => (p.major.includes(v) ? minus(v) : ''), font: {size: 20}, color: '#1a1a1a', padding: 5, autoSkip: false},
            grid: {color: c => (p.major.includes(c.tick.value) ? '#e7e7e7' : '#f1f1f1'),
                   lineWidth: c => (p.major.includes(c.tick.value) ? 1.3 : 0.9),
                   tickColor: c => (p.major.includes(c.tick.value) ? '#333' : 'rgba(0,0,0,0)'), tickLength: 3.5},
            border: {display: false},
            title: {display: true, text: 'GMEFS', font: {size: 22}, color: '#111', padding: {top: p.titlePad, bottom: 0}},
            afterFit: fixY(ar[0])}
      },
      plugins: {frame: {color: '#3a3a3a', width: 1.2}, pText: {text: p.pLabel, dx: p.pPos[0], dy: p.pPos[1]},
                catLabels: {cats: p.cats}}
    },
    plugins: [frame, pText, catLabels]
  });
}

// ---------- build ----------
volcano('chartA', {
  area: [54.3, 51.7, 669, 652.7], xr: [-3.853, 3.848], yr: [-0.596, 27.16],
  fc: aLogFC, p: aNegLogP, group: aGroup, names: aNames, info: aInfo,
  xTicks: aXTicks, xLabels: aXTicks.map(minus), yTicks: aYTicks, fcCut: 0.5, pCut: 4.32,
  labelPos: [[-61,5,-56,26],[33,22,34,43],[-58,-22],[6,21,4,41],[-17,22,-14,44],[26,24,2,45],[24,23,24,42],
             [-1,22,2,42],[-4,-44,-7,-22],[64,6,70,27],[-58,3,-54,24],[125,1],[-74,-28,-73,-11],[53,3,47,21]],
  legend: {x: 46.5, y: 40.4, step: 29.9, items: [['ns', 'No significance'], ['up', 'Up regulation']]},
  arrows: {text: ['Normal', 'Tumor'], textX: [-0.958, 0.962], textDy: 31,
           lines: [{from: -2.22, to: -0.355, dy: 48, color: '#52a8b5', head: 'left'},
                   {from: 0.337, to: 2.215, dy: 46, color: '#d98a7c', head: 'right'}]},
  funnel: {point: 5, tip: [-10, -2], left: INSET_A_BOX.r, top: INSET_A_BOX.t + 3, bottom: INSET_A_BOX.b - 2,
           c1: [410, 225], t1: [-1, -4], t2: [2, 0], t3: [-1, 4], end: 'rgba(214,150,145,0.8)'}
});
insetChart('insetA', INSET_A_BOX, {
  cats: insetACats, v1: insetANormal, v2: insetATumor, box: insetABox, whisker: insetAWhisker,
  xr: [0.607, 2.499], yr: [-1.227, 1.692], yTicks: insetAYTicks, yLabels: insetAYLabels, gap: 6, gapB: 1.6
});

volcano('chartB', {
  area: [57.7, 44, 672, 642.3], xr: [-1.101, 1.101], yr: [0, 16],
  fc: bLogFC, p: bNegLogP, group: bGroup, names: bNames, info: bInfo,
  xTicks: bXTicks, xLabels: bXLabels, yTicks: bYTicks, fcCut: 0.3, pCut: 4.32,
  labelPos: [[8,25,10,46],[30,26,71,46],[7,21,8,41],[8,24,11,42],[-45,-34,-94,-16],[-35,-37,-36,-17],[12,-39,15,-21]],
  legend: {x: 444.3, y: 139.5, step: 27.1, items: [['ns', 'No significance'], ['up', 'Up regulation'], ['down', 'Down regulation']]},
  arrows: {text: ['Primary', 'Recurrence'], textX: [-0.306, 0.375], textDy: 41,
           lines: [{from: -0.666, to: -0.131, dy: 59, color: '#52a8b5', head: 'left'},
                   {from: 0.153, to: 0.688, dy: 59, color: '#d98a7c', head: 'right'}]},
  funnel: {point: 2, tip: [-9, -40], left: INSET_B_BOX.r + 6, top: INSET_B_BOX.t - 730 + 13, bottom: INSET_B_BOX.b - 730,
           c1: [470, 250], t1: [-3, -13], t2: [5, 0], t3: [-4, 15], end: 'rgba(205,120,108,0.95)'}
});
insetChart('insetB', INSET_B_BOX, {
  cats: insetBCats, v1: insetBPrimary, v2: insetBRecurrent, box: insetBBox, whisker: insetBWhisker,
  xr: [0.571, 2.453], yr: [-2.358, 3.0], yTicks: insetBYTicks, yLabels: insetBYLabels, gap: 4, gapB: 2.7
});

boxPanel('chartC', {cats: cCats, low: cLow, high: cHigh, mean: cMean, pts: cPts, area: [56.7, 33.3, 416.7, 395],
  yr: [-4.41, 2.456], major: [2, 0, -2, -4], minor: [1, -1, -3], topBar: BAR_LIGHT, bottomBar: BAR_DARK,
  pLabel: 'p < 2.2e-16', pPos: [28.3, 33.4], titlePad: 2});
boxPanel('chartD', {cats: dCats, low: dLow, high: dHigh, mean: dMean, pts: dPts, area: [50.7, 33.3, 411, 394.3],
  yr: [-3.207, 3.385], major: [2, 0, -2], minor: [3, 1, -1, -3], topBar: BAR_LIGHT, bottomBar: BAR_DARK,
  pLabel: 'p < 2.2e-16', pPos: [31, 33.4], titlePad: 3.5});
boxPanel('chartE', {cats: eCats, low: eLow, high: eHigh, mean: eMean, pts: ePts, area: [56.7, 33.3, 417.3, 392.7],
  yr: [-2.40, 3.225], major: [3, 2, 1, 0, -1, -2], minor: [2.5, 1.5, 0.5, -0.5, -1.5], topBar: BAR_DARK, bottomBar: BAR_LIGHT,
  pLabel: 'p = 1.99e-03', pPos: [28.3, 36.7], titlePad: 2});
boxPanel('chartF', {cats: fCats, low: fLow, high: fHigh, mean: fMean, pts: fPts, area: [50.7, 33.3, 411, 393.3],
  yr: [-3.222, 2.696], major: [2, 1, 0, -1, -2, -3], minor: [2.5, 1.5, 0.5, -0.5, -1.5, -2.5], topBar: BAR_DARK, bottomBar: BAR_LIGHT,
  pLabel: 'p = 0.018', pPos: [31, 35.7], titlePad: 3.5});
boxPanel('chartG', {cats: gCats, low: gLow, high: gHigh, mean: gMean, pts: gPts, area: [56, 30, 416.7, 390.7],
  yr: [-3.039, 2.099], major: [2, 1, 0, -1, -2, -3], minor: [1.5, 0.5, -0.5, -1.5, -2.5], topBar: BAR_DARK, bottomBar: BAR_LIGHT,
  pLabel: 'p = 1.81e-05', pPos: [29, 35], titlePad: 2});
</script>
</body>
</html>
